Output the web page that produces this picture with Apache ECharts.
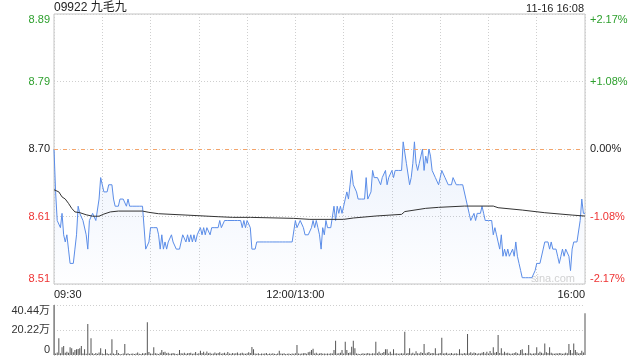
<!DOCTYPE html>
<html><head><meta charset="utf-8">
<script src="https://cdn.jsdelivr.net/npm/echarts@6/dist/echarts.min.js"></script>
<style>html,body{margin:0;padding:0;background:#fff}#c{width:640px;height:360px}</style>
</head><body><div id="c"></div>
<script>
const stockTitle = '09922 九毛九';
const stampText = '11-16 16:08';
const prevClose = 8.70;

// minute-by-minute price (0 = 09:30, 150 = 12:00/13:00, 330 = 16:00)
const price = [
8.70,8.64,8.60,8.60,8.59,8.61,8.58,8.57,8.58,8.56,
8.54,8.54,8.54,8.56,8.58,8.62,8.61,8.61,8.60,8.60,
8.58,8.56,8.60,8.60,8.61,8.61,8.60,8.60,8.63,8.66,
8.66,8.64,8.64,8.64,8.65,8.65,8.65,8.63,8.62,8.62,
8.62,8.63,8.63,8.63,8.63,8.62,8.63,8.62,8.62,8.62,
8.62,8.62,8.62,8.62,8.62,8.62,8.62,8.56,8.56,8.57,
8.59,8.59,8.59,8.59,8.59,8.58,8.56,8.58,8.56,8.57,
8.56,8.57,8.57,8.58,8.57,8.57,8.56,8.56,8.56,8.56,
8.58,8.58,8.57,8.58,8.57,8.58,8.57,8.58,8.57,8.58,
8.58,8.59,8.58,8.59,8.58,8.59,8.59,8.58,8.59,8.59,
8.59,8.59,8.59,8.60,8.59,8.59,8.60,8.60,8.60,8.60,
8.60,8.60,8.60,8.60,8.60,8.60,8.60,8.59,8.60,8.59,
8.60,8.60,8.59,8.56,8.56,8.56,8.57,8.57,8.57,8.57,
8.57,8.57,8.57,8.57,8.57,8.57,8.57,8.57,8.57,8.57,
8.57,8.57,8.57,8.57,8.57,8.57,8.57,8.57,8.57,8.57,
8.60,8.59,8.59,8.60,8.60,8.59,8.58,8.58,8.58,8.58,
8.59,8.60,8.59,8.60,8.59,8.58,8.56,8.59,8.58,8.60,
8.59,8.59,8.59,8.59,8.62,8.60,8.62,8.61,8.62,8.61,
8.62,8.63,8.64,8.63,8.65,8.67,8.65,8.65,8.64,8.63,
8.63,8.63,8.63,8.63,8.66,8.63,8.63,8.64,8.67,8.66,
8.66,8.66,8.66,8.65,8.66,8.66,8.67,8.65,8.66,8.66,
8.67,8.66,8.67,8.67,8.67,8.67,8.67,8.71,8.71,8.68,
8.68,8.65,8.66,8.68,8.71,8.68,8.67,8.68,8.69,8.70,
8.67,8.69,8.68,8.70,8.69,8.67,8.67,8.66,8.66,8.65,
8.65,8.67,8.67,8.66,8.66,8.65,8.65,8.65,8.66,8.66,
8.65,8.65,8.65,8.65,8.65,8.65,8.63,8.62,8.61,8.60,
8.60,8.61,8.60,8.61,8.61,8.61,8.62,8.61,8.60,8.60,
8.60,8.60,8.60,8.58,8.59,8.58,8.57,8.56,8.58,8.55,
8.56,8.55,8.56,8.55,8.55,8.56,8.55,8.57,8.55,8.54,
8.53,8.52,8.52,8.52,8.52,8.52,8.52,8.52,8.52,8.53,
8.54,8.54,8.54,8.54,8.56,8.57,8.57,8.57,8.56,8.57,
8.56,8.56,8.56,8.55,8.54,8.55,8.56,8.55,8.56,8.56,
8.55,8.53,8.56,8.57,8.57,8.57,8.57,8.60,8.63,8.61,
8.61
];

// average-price line, read at these minutes
const avgMinutes = [0,3,5,7,9,11,13,16,20,24,28,31,35,40,55,59,65,82,102,111,122,149,159,180,186,200,216,218,231,239,255,273,276,291,305,322,330];
const avgValues  = [8.643,8.640,8.633,8.630,8.624,8.617,8.612,8.611,8.608,8.606,8.606,8.609,8.612,8.6132,8.6132,8.6114,8.6095,8.6076,8.6053,8.6044,8.6044,8.603,8.6016,8.6016,8.6035,8.6063,8.6086,8.6125,8.617,8.6184,8.6202,8.6202,8.6179,8.6146,8.6109,8.6076,8.6062];

// volume per minute, in 万 shares
const volume = [
40.44,1.2,2.0,13.5,1.5,6.2,7.3,1.9,2.7,1.9,
6.2,5.4,2.2,4.0,4.6,4.9,5.4,7.3,1.3,4.6,
1.0,25.0,1.3,13.5,1.5,0.8,1.6,1.0,2.0,5.4,
1.2,0.8,4.6,1.5,0.9,1.2,12.7,1.3,0.8,4.0,
1.6,0.8,0.7,1.2,8.9,1.0,1.4,0.9,1.1,1.3,
0.8,1.2,2.1,1.0,0.9,1.4,1.2,1.6,26.4,2.5,
1.3,1.0,6.2,1.5,1.2,0.9,1.8,4.0,2.2,2.7,
1.4,1.9,1.0,1.2,1.6,1.3,0.8,1.1,4.0,1.5,
1.2,1.9,1.0,1.4,1.6,1.8,1.1,1.3,2.4,1.0,
1.5,3.5,1.6,2.7,1.2,2.8,1.4,1.9,1.0,1.2,
2.0,1.3,1.6,2.2,1.1,1.5,1.9,1.0,2.4,1.3,
1.0,1.6,1.2,1.5,2.1,1.0,1.4,1.8,1.2,1.0,
1.4,2.2,1.6,6.5,4.6,1.2,1.0,1.4,0.9,1.2,
1.0,1.3,1.6,0.8,1.2,1.0,1.5,1.1,0.9,1.3,
3.5,1.2,1.0,1.4,0.8,1.1,1.3,0.9,1.2,1.0,
1.5,8.1,1.3,1.0,1.2,1.4,1.6,1.0,2.2,2.7,
4.0,5.0,1.3,1.9,1.0,1.2,1.6,1.1,1.3,1.0,
1.2,1.0,1.4,1.3,4.0,11.6,1.2,1.5,1.9,4.0,
1.3,10.8,4.0,1.6,2.0,6.7,11.6,5.4,1.2,1.0,
0.9,1.1,1.4,1.0,1.3,1.6,1.2,1.0,1.5,1.2,
10.8,1.4,2.7,1.2,1.6,2.5,4.6,4.6,1.3,2.7,
1.0,4.6,1.2,1.4,1.0,1.2,1.5,1.3,18.9,1.2,
1.6,5.4,1.3,1.9,1.1,3.0,1.4,1.2,2.2,1.6,
8.9,1.3,1.9,2.4,1.2,1.6,1.4,5.4,1.1,1.3,
1.6,14.0,1.2,1.5,1.9,1.0,1.3,1.6,1.0,1.2,
1.4,1.1,4.6,1.3,1.0,1.6,1.2,17.0,1.5,2.2,
1.3,2.0,1.6,1.1,1.4,1.2,1.8,2.5,1.3,2.7,
1.2,3.2,1.5,6.2,1.9,2.4,16.2,1.6,5.4,1.2,
2.7,1.5,1.9,1.3,1.0,1.2,1.6,2.2,1.4,1.1,
4.0,4.6,1.3,1.6,1.2,8.1,1.4,1.0,1.2,1.5,
6.2,1.4,2.7,1.9,1.3,9.4,2.2,1.6,6.2,1.9,
1.3,1.0,1.5,1.2,1.6,1.4,1.0,1.2,1.8,1.5,
8.9,4.0,1.4,9.4,4.0,2.2,1.3,1.6,3.5,2.0,
33.7
];

const priceTickLabels = ['8.51','8.61','8.70','8.79','8.89'];
const pctTickLabels = ['-2.17%','-1.08%','0.00%','+1.08%','+2.17%'];
const tickColorKeys = ['r','r','k','g','g'];
const volTickLabels = ['0','20.22万','40.44万'];
const timeTickMinutes = [0,150,330];
const timeTickLabels = ['09:30','12:00/13:00','16:00'];

const FONT = 'Arial, "Liberation Sans", "Noto Sans CJK SC", sans-serif';
const PCT_MAX = 2.17, PCT_INT = 1.085;
const toPct = p => (p - prevClose) / prevClose * 100;
const rich = {
  g:{color:'#2ea02e',fontSize:11,fontFamily:FONT},
  r:{color:'#ee3333',fontSize:11,fontFamily:FONT},
  k:{color:'#222',fontSize:11,fontFamily:FONT}
};
const tickIdx = v => Math.round((v + PCT_MAX) / PCT_INT);
const dotted = {color:'#cfcfcf', type:[1,2], width:1};

const chart = echarts.init(document.getElementById('c'), null, {renderer:'canvas'});
chart.setOption({
  animation:false,
  backgroundColor:'#fff',
  title:[
    {text:stockTitle, left:54, top:2, padding:0, textStyle:{fontSize:12, fontWeight:'normal', color:'#222', fontFamily:FONT}},
    {text:stampText, right:56, top:3, padding:0, textStyle:{fontSize:11, fontWeight:'normal', color:'#222', fontFamily:FONT}}
  ],
  graphic:[{type:'text', left:531, top:273, z:0, style:{text:'sina.com', fill:'#d2d2d2', font:'11px ' + FONT}}],
  grid:[
    {left:54, right:55, top:14, height:270, show:true, borderColor:'#c4c4c4', borderWidth:1, backgroundColor:'transparent'},
    {left:54, right:55, top:305, height:50}
  ],
  xAxis:[
    {type:'value', gridIndex:0, min:0, max:330, interval:30,
     axisLine:{show:false}, axisTick:{show:false},
     splitLine:{show:true, lineStyle:dotted},
     axisLabel:{show:true, margin:5, color:'#222', fontSize:11, fontFamily:FONT,
       alignMinLabel:'left', alignMaxLabel:'right',
       formatter:v => { const k = timeTickMinutes.indexOf(Math.round(v)); return k >= 0 ? timeTickLabels[k] : ''; }}},
    {type:'value', gridIndex:1, min:0, max:330, interval:30,
     axisLine:{show:false}, axisTick:{show:false}, splitLine:{show:false}, axisLabel:{show:false}}
  ],
  yAxis:[
    {type:'value', gridIndex:0, position:'left', min:-PCT_MAX, max:PCT_MAX, interval:PCT_INT,
     axisLine:{show:false}, axisTick:{show:false},
     splitLine:{show:true, lineStyle:dotted},
     axisLabel:{margin:4, verticalAlignMinLabel:'bottom', verticalAlignMaxLabel:'top', rich:rich,
       formatter:v => { const k = tickIdx(v); return '{' + tickColorKeys[k] + '|' + priceTickLabels[k] + '}'; }}},
    {type:'value', gridIndex:0, position:'right', min:-PCT_MAX, max:PCT_MAX, interval:PCT_INT,
     axisLine:{show:false}, axisTick:{show:false}, splitLine:{show:false},
     axisLabel:{margin:5, verticalAlignMinLabel:'bottom', verticalAlignMaxLabel:'top', rich:rich,
       formatter:v => { const k = tickIdx(v); return '{' + tickColorKeys[k] + '|' + pctTickLabels[k] + '}'; }}},
    {type:'value', gridIndex:1, min:0, max:40.44, interval:20.22,
     axisLine:{show:true, lineStyle:{color:'#c4c4c4'}}, axisTick:{show:false},
     splitLine:{show:true, lineStyle:dotted},
     axisLabel:{margin:4, color:'#333', fontSize:11, fontFamily:FONT,
       verticalAlignMinLabel:'bottom', verticalAlignMaxLabel:'top',
       formatter:v => volTickLabels[Math.round(v / 20.22)]}}
  ],
  series:[
    {type:'line', xAxisIndex:0, yAxisIndex:0, z:3, symbol:'none', silent:true,
     data:price.map((p,i) => [i, toPct(p)]),
     lineStyle:{color:'#5b8de8', width:1},
     areaStyle:{origin:'start', color:{type:'linear', x:0, y:0, x2:0, y2:1,
       colorStops:[{offset:0, color:'rgba(91,141,232,0.16)'},{offset:1, color:'rgba(91,141,232,0.01)'}]}},
     markLine:{symbol:'none', silent:true, label:{show:false},
       lineStyle:{color:'#f4a46a', type:[4,5], width:1},
       data:[{yAxis:0}]}},
    {type:'line', xAxisIndex:0, yAxisIndex:0, z:4, symbol:'none', silent:true,
     data:avgMinutes.map((m,i) => [m, toPct(avgValues[i])]),
     lineStyle:{color:'#333', width:1}},
    {type:'bar', xAxisIndex:1, yAxisIndex:2, barWidth:1, silent:true,
     data:volume.map((v,i) => [i, v]),
     itemStyle:{color:'#555'}}
  ]
});
</script>
</body></html>
